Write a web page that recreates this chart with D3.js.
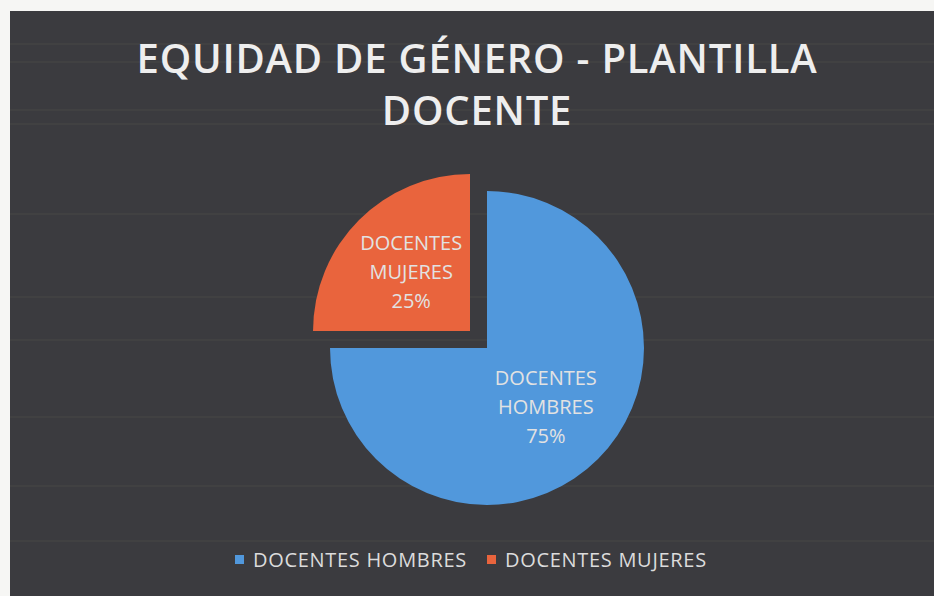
<!DOCTYPE html>
<html lang="es">
    <head>
        <meta charset="utf-8">
        <title>Equidad de género</title>
        <script src="https://d3js.org/d3.v7.min.js"></script>
        <style>
            body { margin: 0; background: #f6f6f4; }
            text { font-family: "Open Sans", "Noto Sans", sans-serif; }
        </style>
    </head>

    <body>
        <div id="chart"></div>

        <script>

            // data
            var categories = ["DOCENTES HOMBRES", "DOCENTES MUJERES"];
            var values = [75, 25];
            var titleLines = ["EQUIDAD DE GÉNERO - PLANTILLA", "DOCENTE"];

            var width = 934;
            var height = 596;

            var svg = d3.select("#chart")
                        .append("svg")
                        .attr("width", width)
                        .attr("height", height);

            // dark chart area (scanned page, a bit of white on top/left)
            svg.append("rect")
                .attr("x", 10)
                .attr("y", 11)
                .attr("width", width - 10)
                .attr("height", height - 11)
                .style("fill", "#3b3b3f");

            // faint scan lines
            [44, 62, 110, 124, 214, 297, 340, 417, 486, 541].forEach(function(y){
                svg.append("line")
                    .attr("x1", 10).attr("x2", width)
                    .attr("y1", y).attr("y2", y)
                    .attr("stroke", "#55554f")
                    .attr("stroke-width", 1)
                    .attr("opacity", 0.5);
            });

            // title
            svg.selectAll(".title")
                .data(titleLines)
                .enter()
                .append("text")
                .attr("class", "title")
                .attr("x", 477)
                .attr("y", function(d, i){ return 73 + i * 52; })
                .attr("text-anchor", "middle")
                .style("font-size", "40px")
                .style("font-weight", "600")
                .style("letter-spacing", "0.8px")
                .style("fill", "#eeeeee")
                .text(function(d){ return d; });

            var color = d3.scaleOrdinal()
                        .domain(categories)
                        .range(["#5198dc", "#e9643d"]);

            var radius = 157;
            var cx = 487, cy = 348;
            var explode = 24;

            var pie = d3.pie()
                .sort(null)
                .value(function(d){ return d; })(values);

            var path = d3.arc()
                        .outerRadius(radius)
                        .innerRadius(0);

            var total = d3.sum(values);

            var slices = svg.selectAll(".arc")
                        .data(pie)
                        .enter()
                        .append("g")
                        .attr("class", "arc")
                        .attr("transform", function(d, i){
                            var a = (d.startAngle + d.endAngle) / 2;
                            var off = i === 1 ? explode : 0;
                            return "translate(" + (cx + Math.sin(a) * off) + "," + (cy - Math.cos(a) * off) + ")";
                        });

            slices.append("path")
                .attr("d", path)
                .attr("fill", function(d, i){ return color(categories[i]); });

            // labels inside the slices
            var labelArc = d3.arc()
                        .outerRadius(radius * 1.06)
                        .innerRadius(0);

            slices.each(function(d, i){
                var c = labelArc.centroid(d);
                var lines = categories[i].split(" ").concat([Math.round(d.value / total * 100) + "%"]);
                d3.select(this).append("text")
                    .attr("text-anchor", "middle")
                    .style("font-size", "20px")
                    .style("fill", "#e2e2e2")
                    .selectAll("tspan")
                    .data(lines)
                    .enter()
                    .append("tspan")
                    .attr("x", c[0])
                    .attr("y", function(t, j){ return c[1] + (j - 1) * 29 + 7; })
                    .text(function(t){ return t; });
            });

            // legend
            var legendX = [235, 487];
            var legend = svg.selectAll(".legend")
                        .data(categories)
                        .enter()
                        .append("g")
                        .attr("class", "legend")
                        .attr("transform", function(d, i){ return "translate(" + legendX[i] + ",555)"; });

            legend.append("rect")
                .attr("width", 9)
                .attr("height", 9)
                .attr("fill", function(d){ return color(d); });

            legend.append("text")
                .attr("x", 18)
                .attr("y", 12)
                .style("font-size", "20px")
                .style("letter-spacing", "0.7px")
                .style("fill", "#dcdcdc")
                .text(function(d){ return d; });

        </script>
    </body>
</html>
